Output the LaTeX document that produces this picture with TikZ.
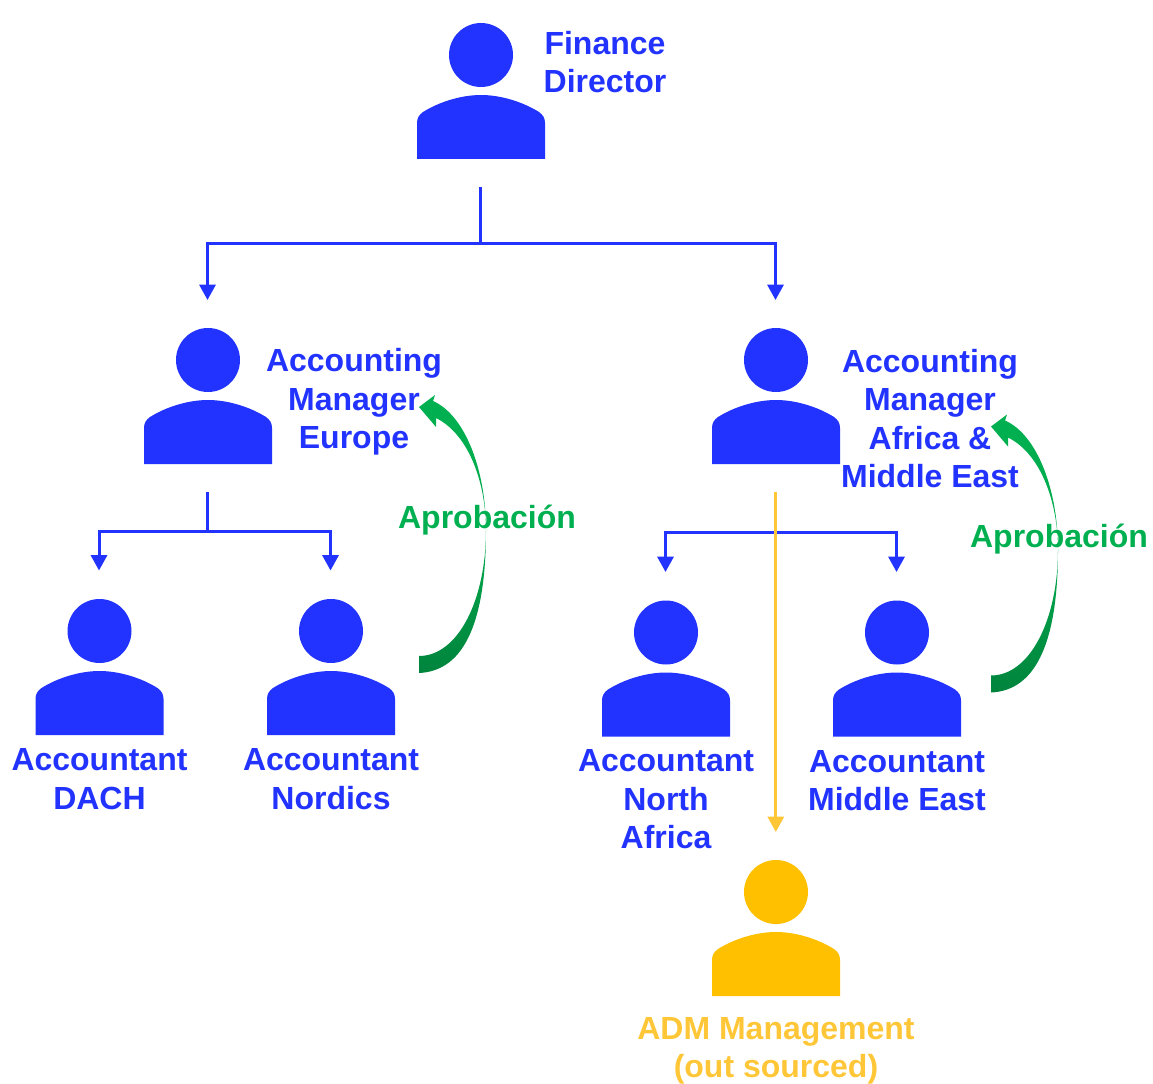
\documentclass[tikz,border=0pt]{standalone}
\usepackage{fontspec}
\setmainfont{Liberation Sans}
\usetikzlibrary{arrows.meta}
\definecolor{mblue}{HTML}{2233FF}
\definecolor{myel}{HTML}{FFC000}
\definecolor{myeltxt}{HTML}{FFC738}
\definecolor{mgreen}{HTML}{00B050}
\definecolor{mdark}{HTML}{00843D}
\tikzset{
  x=0.75pt,y=-0.75pt,
  lab/.style={text=mblue,font=\bfseries\fontsize{24}{28.9}\selectfont,align=center,inner sep=0pt},
  greenlab/.style={lab,text=mgreen},
  yellab/.style={lab,text=myeltxt},
  link/.style={draw=mblue,line width=2.25pt},
  linkarrow/.style={link,-{Triangle[length=11.5pt,width=12pt]}},
  yelarrow/.style={draw=myeltxt,line width=2.25pt,-{Triangle[length=11.5pt,width=12pt]}},
  pics/person/.style={code={
    \fill[#1] (0,0) circle[radius=32];
    \fill[#1] (-64,104) -- (-64,68) .. controls (-64,63) and (-62,60) .. (-58,57)
      .. controls (-42,47) and (-20,40) .. (0,40)
      .. controls (20,40) and (42,47) .. (58,57)
      .. controls (62,60) and (64,63) .. (64,68) -- (64,104) -- cycle;
  }},
  pics/approval/.style={code={
    \shade[bottom color=mdark,top color=mgreen,middle color=mgreen!85!mdark]
      (0,0) .. controls (39,0) and (67,-56) .. (67,-126)
      .. controls (67,-171) and (51,-221) .. (17,-238)
      -- (17,-229) -- (0,-249) -- (16,-261) -- (14,-255)
      .. controls (46,-241) and (67,-186) .. (67,-126)
      .. controls (67,-38) and (47,15) .. (0,17) -- cycle;
  }}
}
\begin{document}
\begin{tikzpicture}
\useasboundingbox (0,0) rectangle (1153,1084);
% people
\pic at (481,55) {person=mblue};
\pic at (208,360) {person=mblue};
\pic at (776,360) {person=mblue};
\pic at (99.5,631) {person=mblue};
\pic at (331,631) {person=mblue};
\pic at (666,632.5) {person=mblue};
\pic at (897,632.5) {person=mblue};
\pic at (776,892) {person=myel};
% labels
\node[lab] (fd) at (605,62) {Finance\\Director};
\node[lab] (ame) at (354,402) {Accounting\\Manager\\Europe};
\node[lab] (amm) at (930,418.5) {Accounting\\Manager\\Africa \&\\Middle East};
\node[lab] (dach) at (99.5,779) {Accountant\\DACH};
\node[lab] (nord) at (331,779) {Accountant\\Nordics};
\node[lab] (na) at (666,799.5) {Accountant\\North\\Africa};
\node[lab] (me) at (897,780.5) {Accountant\\Middle East};
\node[yellab] (adm) at (776,1051) {ADM Management\\(out sourced)};
% connector ends
\coordinate (fdout) at (480,187);
\coordinate (fdj) at (480,244);
\coordinate (amein) at (207.5,300);
\coordinate (ammin) at (775.5,300);
\coordinate (ameout) at (207.5,492);
\coordinate (amej) at (207.5,531.5);
\coordinate (dachin) at (99,570.5);
\coordinate (nordin) at (330.5,570.5);
\coordinate (ammout) at (775.5,492);
\coordinate (ammj) at (775.5,532.5);
\coordinate (nain) at (665.5,572);
\coordinate (mein) at (896.5,572);
\coordinate (admout) at (775.8,492);
\coordinate (admin) at (775.8,832);
% connectors
\draw[link] (fdout) -- (fdj);
\draw[linkarrow] (fdj) -| (amein);
\draw[linkarrow] (fdj) -| (ammin);
\draw[link] (ameout) -- (amej);
\draw[linkarrow] (amej) -| (dachin);
\draw[linkarrow] (amej) -| (nordin);
\draw[link] (ammout) -- (ammj);
\draw[linkarrow] (ammj) -| (nain);
\draw[linkarrow] (ammj) -| (mein);
\draw[yelarrow] (admout) -- (admin);
% approval arrows
\pic at (419,656) {approval};
\pic at (991,675.5) {approval};
\node[greenlab] (ap1) at (487,520) {Aprobación};
\node[greenlab] (ap2) at (1059,539) {Aprobación};
\end{tikzpicture}
\end{document}
